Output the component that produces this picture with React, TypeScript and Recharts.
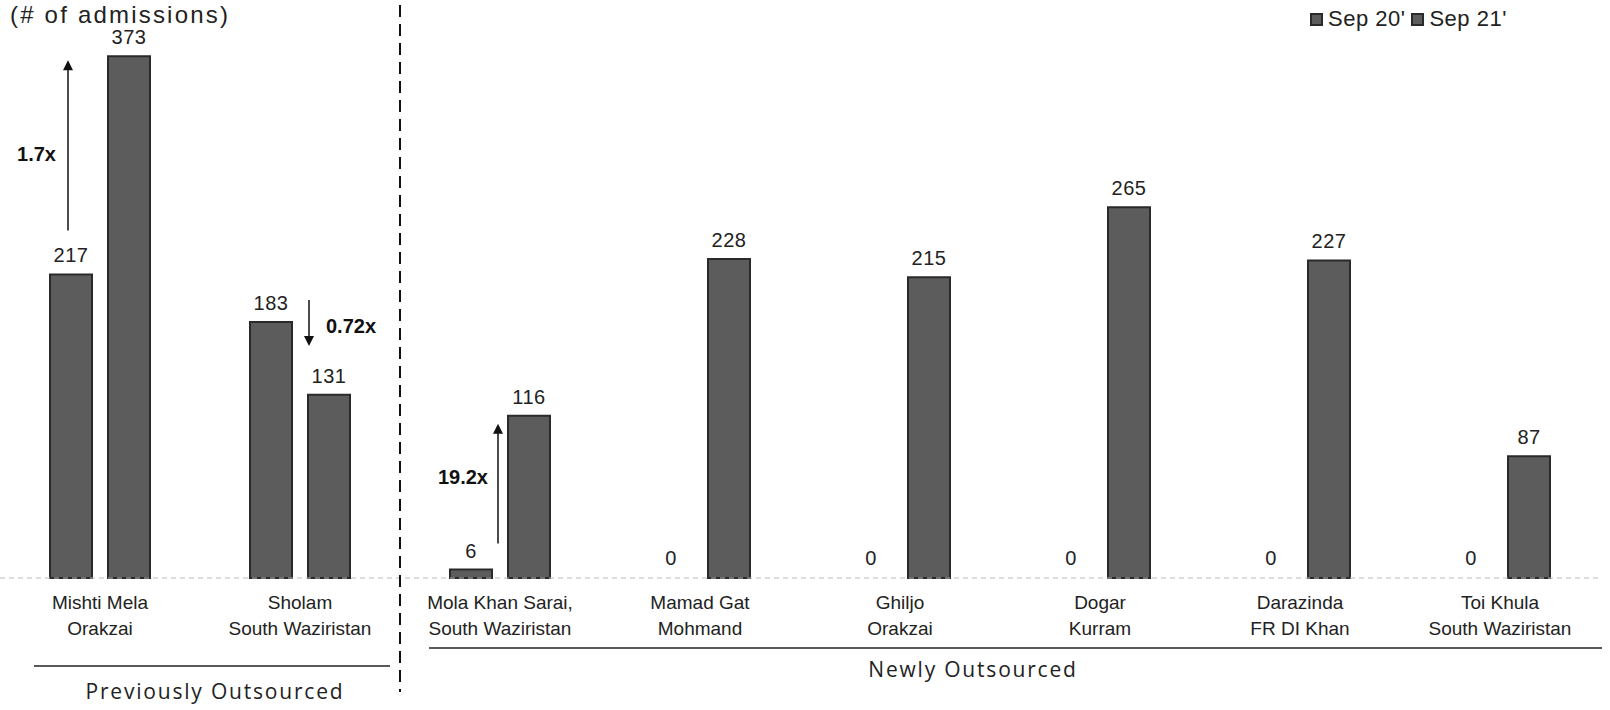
import { BarChart, Bar, XAxis, YAxis, LabelList, Rectangle } from 'recharts';

const categories = [
    'Mishti Mela\nOrakzai',
    'Sholam\nSouth Waziristan',
    'Mola Khan Sarai,\nSouth Waziristan',
    'Mamad Gat\nMohmand',
    'Ghiljo\nOrakzai',
    'Dogar\nKurram',
    'Darazinda\nFR DI Khan',
    'Toi Khula\nSouth Waziristan',
];
const sep20 = [217, 183, 6, 0, 0, 0, 0, 0];
const sep21 = [373, 131, 116, 228, 215, 265, 227, 87];
const seriesNames = ["Sep 20'", "Sep 21'"];
const groupNames = ['Previously Outsourced', 'Newly Outsourced'];

const W = 1610;
const H = 710;
const TOP = 38;
const BASE = 578;
const Y_MAX = 386;
const FONT = '"Liberation Sans", Arial, sans-serif';
const BAR_FILL = '#5c5c5c';
const BAR_STROKE = '#2a2a2a';

const yOf = (v: number) => BASE - (v / Y_MAX) * (BASE - TOP);

const data = categories.map((name, i) => ({ name, sep20: sep20[i], sep21: sep21[i] }));

function CategoryTick({ x, y, payload }: any) {
    const lines = String(payload.value).split('\n');
    return (
        <g>
            {lines.map((line, i) => (
                <text
                    key={i}
                    x={x}
                    y={y + 23 + i * 26}
                    textAnchor="middle"
                    fontSize={19}
                    fontFamily={FONT}
                    fill="#222"
                >
                    {line}
                </text>
            ))}
        </g>
    );
}

// zero values keep a 1px placeholder so the "0" label still shows, but nothing is drawn
function BarShape(props: any) {
    if (!props.height || props.height <= 1.5) return <g />;
    return <Rectangle {...props} />;
}

function Arrow({ x, y1, y2 }: { x: number; y1: number; y2: number }) {
    // head sits at y2
    const dir = y2 < y1 ? 1 : -1;
    return (
        <g>
            <line x1={x} y1={y1} x2={x} y2={y2 + dir * 8} stroke="#111" strokeWidth={1.5} />
            <polygon
                points={`${x - 5},${y2 + dir * 10} ${x + 5},${y2 + dir * 10} ${x},${y2}`}
                fill="#111"
            />
        </g>
    );
}

function Annotations() {
    const bold = { fontFamily: FONT, fontWeight: 700, fontSize: 20, fill: '#111' };
    const groupStyle = {
        fontFamily: '"Open Sans", sans-serif',
        fontSize: 21,
        letterSpacing: 1.8,
        fill: '#222',
    };
    return (
        <svg
            width={W}
            height={H}
            style={{ position: 'absolute', top: 0, left: 0, pointerEvents: 'none' }}
        >
            <text x={10} y={23} fontFamily={FONT} fontSize={24} letterSpacing={2.2} fill="#222">
                (# of admissions)
            </text>

            <Arrow x={68} y1={yOf(217) - 44} y2={yOf(373) + 4} />
            <text x={56} y={161} textAnchor="end" {...bold}>
                1.7x
            </text>

            <Arrow x={309} y1={yOf(183) - 22} y2={yOf(183) + 24} />
            <text x={326} y={333} {...bold}>
                0.72x
            </text>

            <Arrow x={498} y1={yOf(6) - 26} y2={yOf(116) + 8} />
            <text x={488} y={484} textAnchor="end" {...bold}>
                19.2x
            </text>

            <line
                x1={400}
                y1={5}
                x2={400}
                y2={692}
                stroke="#111"
                strokeWidth={2}
                strokeDasharray="12 7"
            />

            <line x1={34} y1={666} x2={390} y2={666} stroke="#222" strokeWidth={1.5} />
            <line x1={429} y1={648} x2={1602} y2={648} stroke="#222" strokeWidth={1.5} />
            <text x={215} y={699} textAnchor="middle" {...groupStyle}>
                {groupNames[0]}
            </text>
            <text x={973} y={677} textAnchor="middle" {...groupStyle}>
                {groupNames[1]}
            </text>
        </svg>
    );
}

function LegendBox() {
    return (
        <div
            style={{
                position: 'absolute',
                top: 6,
                left: 1310,
                display: 'flex',
                alignItems: 'center',
                fontFamily: FONT,
                fontSize: 22,
                color: '#222',
                letterSpacing: 0.5,
            }}
        >
            {seriesNames.map((s) => (
                <span key={s} style={{ display: 'flex', alignItems: 'center', marginRight: 6 }}>
                    <span
                        style={{
                            display: 'inline-block',
                            width: 9,
                            height: 9,
                            background: BAR_FILL,
                            border: `2px solid ${BAR_STROKE}`,
                            marginRight: 5,
                        }}
                    />
                    {s}
                </span>
            ))}
        </div>
    );
}

export default function App() {
    const labelStyle = { fontSize: 20, fontFamily: FONT, fill: '#222', letterSpacing: 0.5 };
    return (
        <div
            style={{
                position: 'absolute',
                top: 0,
                left: 0,
                width: W,
                height: H,
                background: '#fff',
            }}
        >
            <BarChart
                width={W}
                height={H}
                data={data}
                margin={{ top: TOP, right: 10, left: 0, bottom: H - BASE - 70 }}
                barSize={42}
                barGap={16}
            >
                <XAxis
                    dataKey="name"
                    height={70}
                    axisLine={{ stroke: '#bbb', strokeDasharray: '5 4' }}
                    tickLine={false}
                    interval={0}
                    tick={<CategoryTick />}
                />
                <YAxis hide domain={[0, Y_MAX]} />
                <Bar
                    dataKey="sep20"
                    name={seriesNames[0]}
                    fill={BAR_FILL}
                    stroke={BAR_STROKE}
                    strokeWidth={2}
                    minPointSize={1}
                    shape={<BarShape />}
                    isAnimationActive={false}
                >
                    <LabelList dataKey="sep20" position="top" offset={12} style={labelStyle} />
                </Bar>
                <Bar
                    dataKey="sep21"
                    name={seriesNames[1]}
                    fill={BAR_FILL}
                    stroke={BAR_STROKE}
                    strokeWidth={2}
                    isAnimationActive={false}
                >
                    <LabelList dataKey="sep21" position="top" offset={12} style={labelStyle} />
                </Bar>
            </BarChart>
            <Annotations />
            <LegendBox />
        </div>
    );
}
